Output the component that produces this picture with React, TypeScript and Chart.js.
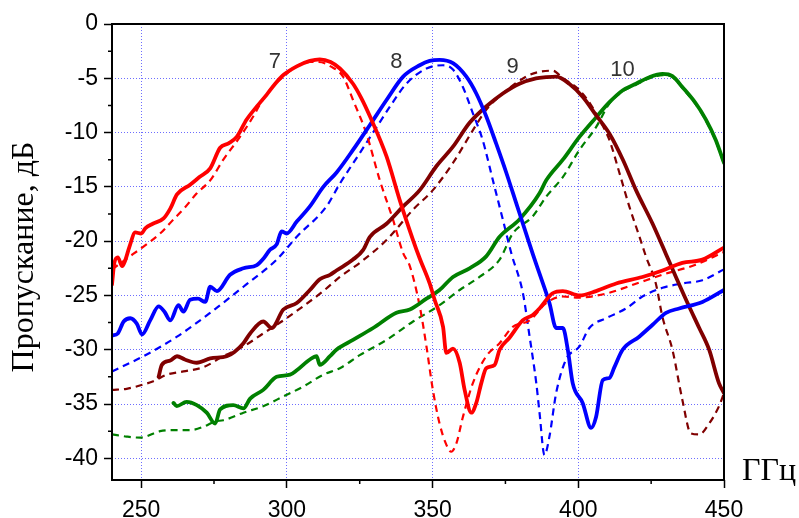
import React, { useEffect, useRef } from "react";
import { Chart, registerables } from "chart.js";

Chart.register(...registerables);

// ---------- data ----------
const red7X = [240, 240.8, 242, 243.5, 244.5, 246, 248, 250, 251.5, 254, 257.7, 260, 262.3, 266.8, 270, 273.7, 277.1, 280, 282.8, 286.2, 289.7, 293.1, 296, 298.8, 303.4, 307.9, 311.3, 315, 318.2, 322.7, 325.5, 328.5, 334.2, 338.7, 343.3, 345.6, 349, 350.7, 353.6, 354.7, 357, 359.3, 361, 363.3, 365, 366.7, 368.4, 371.3, 373, 376.4, 380.9, 384.4, 386.7, 391.2, 394.7, 400.4, 406.1, 413, 422, 428.9, 435.7, 442.6, 450];
const red7Y = [-24, -22, -21.5, -22.3, -21.8, -20.5, -19.2, -19.3, -18.8, -18.4, -17.9, -17, -15.7, -14.8, -14.1, -13.3, -11.4, -11, -10.4, -8.8, -7.6, -6.5, -5.5, -4.7, -3.9, -3.4, -3.25, -3.5, -4.1, -5.5, -6.8, -8.5, -12.2, -16.2, -19.9, -21.6, -23.9, -25.4, -27.9, -30.3, -29.9, -31.2, -33.7, -35.8, -34.9, -33.1, -31.7, -31.4, -30, -28.9, -27.3, -26.8, -26.2, -24.8, -24.6, -25, -24.6, -23.9, -23.3, -22.7, -22, -21.7, -20.6];

const red7dX = [240, 245.1, 250.8, 256.5, 261.1, 265, 269.1, 273.7, 278.2, 283.9, 288.5, 291, 295, 299, 303.4, 307.9, 311, 315, 319.3, 322.7, 327.3, 331.9, 336.4, 339.9, 342.2, 345.6, 347.9, 350.1, 352.4, 354.5, 356.4, 358.2, 360.4, 363.8, 368.4, 373, 377.5, 383.3, 389, 394.7, 400, 410, 420, 430, 440, 450];
const red7dY = [-22.6, -21.6, -20.5, -19.3, -18, -16.9, -15.6, -14.4, -12.5, -10.4, -8.5, -7.3, -5.8, -4.8, -3.9, -3.5, -3.5, -3.9, -4.85, -7, -10.1, -14.4, -18, -21.1, -22.3, -26, -29.7, -33.7, -36.8, -38.6, -39.4, -38.6, -36.2, -33.1, -30.6, -29.4, -27.9, -27.3, -25.7, -25.1, -25.2, -24.8, -23.9, -23.0, -22.2, -21.0];

const blue8X = [240, 242, 244, 246.3, 248.5, 250.3, 253.1, 256, 258, 260, 262.8, 264.5, 266.8, 269.5, 272, 273.7, 276, 280.5, 285.1, 289.7, 292, 294.2, 296.5, 298.2, 299.9, 303.4, 307.9, 312.5, 317, 322.7, 328.5, 334.2, 339.9, 345.6, 349, 352.4, 357, 361.6, 365, 368.4, 371.8, 375.3, 378.7, 382.1, 384.4, 386.7, 390.1, 392.4, 394.7, 396.4, 398.1, 401.5, 404.4, 406.1, 408.4, 410.7, 412.4, 415.2, 420.9, 425.5, 430.1, 434.6, 442.6, 450];
const blue8Y = [-28.7, -28.5, -27.4, -27.1, -27.6, -28.6, -27.3, -26, -26.5, -27.3, -25.9, -26.5, -25.4, -25.3, -25.6, -24.2, -24.6, -23.1, -22.5, -22.2, -21.6, -20.8, -20.3, -19.1, -19.3, -18.2, -16.8, -15, -13.7, -11.6, -9.3, -7, -4.85, -3.8, -3.4, -3.3, -3.6, -4.85, -6.4, -8.5, -11, -13.7, -16.5, -19.3, -21.2, -23, -25.7, -28, -28, -30, -33.1, -34.9, -37.2, -36.2, -32.8, -32.6, -31.6, -30, -28.8, -27.7, -26.6, -26.2, -25.6, -24.5];

const blue8dX = [240, 250.8, 262.3, 273.7, 285.1, 296.5, 303.4, 313.6, 318.2, 325, 330.8, 335.4, 341, 347.9, 353.6, 357, 360.4, 363.8, 367.2, 370.7, 374.1, 377, 381, 383.3, 385.6, 386.7, 388.4, 390.1, 392.4, 395.8, 400.4, 403.8, 409.5, 416.4, 422, 428.9, 435.7, 442.6, 450];
const blue8dY = [-32, -30.6, -28.8, -26.6, -24.2, -21.7, -19.6, -16.8, -14.7, -11.9, -9.5, -7.6, -5.5, -4.1, -3.8, -4.2, -5.8, -8.2, -10.7, -14.4, -18, -21.1, -24.8, -28.8, -33.1, -35.8, -39.7, -38, -34, -30.9, -29.7, -28, -27.1, -26.2, -25.1, -24.3, -23.9, -23.6, -22.6];

const brown9X = [256, 257.1, 260, 262.3, 265, 269.1, 273.7, 279.4, 282, 285.1, 287.4, 291.9, 294.8, 298.8, 303.4, 307.9, 311.3, 314.8, 317, 322.7, 326.2, 328.5, 334.2, 339.9, 345.6, 351.3, 357, 362.7, 368.4, 374.1, 379.8, 385.5, 389, 392.4, 396.9, 401.5, 406.1, 410.7, 415.3, 419.8, 425.5, 430.1, 433.5, 438, 441.5, 444.9, 448.3, 450];
const brown9Y = [-32.5, -31.4, -31, -30.6, -30.9, -31.2, -30.8, -30.6, -30.2, -29.4, -28.5, -27.4, -28, -26.3, -25.7, -24.5, -23.5, -23.1, -22.7, -21.7, -20.8, -19.6, -18.4, -16.8, -15.3, -13.1, -11.3, -9.1, -7.6, -6.4, -5.5, -5, -4.9, -4.85, -5.5, -6.7, -8.4, -10.1, -12.5, -15.3, -18.4, -21.2, -23.3, -26, -28, -30, -33.1, -34];

const brown9dX = [240, 245, 250.8, 254.2, 258.8, 264.5, 271.4, 278.2, 285.1, 291.9, 298.8, 305.6, 312.5, 318.2, 325, 334.2, 343.3, 350.1, 357, 363.8, 368.4, 374.1, 382.1, 386.7, 391.2, 394.7, 400, 404, 407.2, 410.7, 414.1, 417.5, 421, 423.2, 426.6, 428.9, 432.3, 435.7, 438.6, 441.5, 444.9, 448.3, 450];
const brown9dY = [-33.7, -33.6, -33.2, -32.9, -32.3, -32, -31.6, -30.6, -29.7, -28.5, -27.3, -26, -24.6, -23.3, -22, -19.9, -17.1, -15.3, -12.8, -9.8, -7.9, -6.4, -4.85, -4.4, -4.3, -5, -6, -7.3, -8.8, -10.7, -13.7, -16.8, -19.6, -21.4, -23.9, -27, -30, -34.6, -37.7, -37.8, -36.8, -35.2, -34];

const green10X = [261.1, 262.2, 265.6, 269.1, 272.5, 275.4, 277.1, 281.6, 285.1, 287.4, 291.9, 296.5, 301.1, 303.4, 307.9, 310.2, 311.3, 314.8, 317, 322.7, 329.6, 337.6, 342.2, 347.9, 352.4, 357, 362.7, 368.4, 373, 379.8, 386.7, 389, 394.7, 400.4, 406.1, 410.7, 415.3, 419.8, 424.4, 428.9, 432.3, 435.7, 440.3, 443.8, 447.2, 450];
const green10Y = [-34.9, -35.2, -34.8, -35.1, -35.8, -36.8, -35.5, -35.1, -35.4, -34.5, -33.7, -32.5, -32.3, -31.9, -30.9, -30.6, -31.4, -30.6, -30, -29.1, -28, -26.6, -26.3, -25.3, -24.5, -23.3, -22.5, -21.4, -19.6, -18, -15.6, -14.4, -12.5, -10.4, -8.6, -7.2, -6.1, -5.5, -4.9, -4.6, -4.8, -5.8, -7.3, -8.8, -10.7, -12.8];

const green10dX = [240, 245, 249.7, 256.5, 262, 266.8, 271.4, 275.4, 278.2, 285.1, 291.9, 298.8, 305.6, 312.5, 318.2, 325, 334.2, 343.3, 352.4, 359.3, 366.1, 373, 377.5, 384.4, 389, 394.7, 400.4, 406.1, 410.7, 415.3, 419.8, 424.4, 428.9, 432.3, 435.7, 440.3, 443.8, 447.2, 450];
const green10dY = [-37.8, -38, -38.1, -37.5, -37.4, -37.4, -37.1, -36.6, -36.5, -35.8, -35.2, -34.3, -33.4, -32.3, -31.7, -30.5, -29.1, -27.4, -25.9, -24.5, -23.3, -21.7, -19.3, -17.7, -15.9, -14.1, -11.6, -9.5, -7.3, -6.2, -5.6, -5.0, -4.7, -4.9, -5.9, -7.4, -8.9, -10.8, -12.9];

const curveNames = ["7", "8", "9", "10"];
const curveLabelX = [295.9, 337.6, 377.5, 415.2];
const curveLabelY = [-3.5, -3.5, -4.0, -4.2];

const minorX = [275, 325, 375, 425];
const minorY = [-2.5, -7.5, -12.5, -17.5, -22.5, -27.5, -32.5, -37.5];

const xTitle = "ГГц";
const yTitle = "Пропускание, дБ";

// ---------- helpers ----------
const zip = (xs: number[], ys: number[]) => xs.map((x, i) => ({ x, y: ys[i] }));

const solid = (xs: number[], ys: number[], color: string) => ({
  data: zip(xs, ys),
  borderColor: color,
  borderWidth: 3.8,
  pointRadius: 0,
  fill: false,
  cubicInterpolationMode: "monotone" as const,
  borderCapStyle: "round" as const,
  borderJoinStyle: "round" as const,
});

const dashed = (xs: number[], ys: number[], color: string) => ({
  data: zip(xs, ys),
  borderColor: color,
  borderWidth: 2.2,
  borderDash: [7, 5],
  pointRadius: 0,
  fill: false,
  cubicInterpolationMode: "monotone" as const,
});

const decorPlugin = {
  id: "decor",
  afterDraw(chart: any) {
    const { ctx, chartArea: a, scales } = chart;
    const xs = scales.x;
    const ys = scales.y;
    ctx.save();
    ctx.strokeStyle = "#000";
    ctx.lineWidth = 2;
    ctx.strokeRect(a.left, a.top, a.right - a.left, a.bottom - a.top);

    ctx.lineWidth = 1.5;
    ctx.beginPath();
    minorX.forEach((v) => {
      const px = xs.getPixelForValue(v);
      ctx.moveTo(px, a.bottom);
      ctx.lineTo(px, a.bottom + 4);
    });
    minorY.forEach((v) => {
      const py = ys.getPixelForValue(v);
      ctx.moveTo(a.left, py);
      ctx.lineTo(a.left - 4, py);
    });
    ctx.stroke();

    ctx.fillStyle = "#333";
    ctx.font = '22px "Liberation Sans", Arial, sans-serif';
    ctx.textAlign = "center";
    ctx.textBaseline = "middle";
    curveNames.forEach((n, i) => {
      ctx.fillText(n, xs.getPixelForValue(curveLabelX[i]), ys.getPixelForValue(curveLabelY[i]));
    });

    ctx.fillStyle = "#000";
    ctx.font = '32px "Liberation Serif", "Times New Roman", serif';
    ctx.textAlign = "left";
    ctx.textBaseline = "alphabetic";
    ctx.fillText(xTitle, a.right + 18, a.bottom);

    ctx.translate(33, (a.top + a.bottom) / 2 + 5);
    ctx.rotate(-Math.PI / 2);
    ctx.textAlign = "center";
    ctx.fillText(yTitle, 0, 0);
    ctx.restore();
  },
};

export default function App() {
  const ref = useRef<HTMLCanvasElement | null>(null);

  useEffect(() => {
    document.body.style.margin = "0";
    const canvas = ref.current;
    if (!canvas) return;
    const tickFont = { family: '"Liberation Sans", Arial, sans-serif', size: 23 };
    const chart = new Chart(canvas, {
      type: "line",
      data: {
        datasets: [
          solid(red7X, red7Y, "#ff0000"),
          solid(blue8X, blue8Y, "#0000ff"),
          solid(brown9X, brown9Y, "#800000"),
          solid(green10X, green10Y, "#008000"),
          dashed(red7dX, red7dY, "#ff0000"),
          dashed(blue8dX, blue8dY, "#0000ff"),
          dashed(brown9dX, brown9dY, "#800000"),
          dashed(green10dX, green10dY, "#008000"),
        ] as any,
      },
      options: {
        animation: false,
        responsive: false,
        devicePixelRatio: 1,
        layout: { padding: { left: 0, top: 24, right: 75, bottom: 0 } },
        plugins: { legend: { display: false }, tooltip: { enabled: false } },
        scales: {
          x: {
            type: "linear",
            min: 240,
            max: 450,
            afterFit: (s: any) => {
              s.height = 38;
            },
            ticks: { stepSize: 50, includeBounds: false, color: "#000", font: tickFont, padding: 9, maxRotation: 0 },
            grid: {
              color: "rgba(60,60,255,0.75)",
              lineWidth: 1,
              tickColor: "#000",
              tickLength: 8,
              tickWidth: 1.5,
            },
            border: { display: false, dash: [1, 2] },
          },
          y: {
            type: "linear",
            min: -42,
            max: 0,
            afterFit: (s: any) => {
              s.width = 112;
            },
            ticks: { stepSize: 5, includeBounds: false, color: "#000", font: tickFont, padding: 6 },
            grid: {
              color: "rgba(60,60,255,0.75)",
              lineWidth: 1,
              tickColor: "#000",
              tickLength: 8,
              tickWidth: 1.5,
            },
            border: { display: false, dash: [1, 2] },
          },
        },
      },
      plugins: [decorPlugin],
    });
    return () => chart.destroy();
  }, []);

  return <canvas ref={ref} width={799} height={518} style={{ display: "block", width: 799, height: 518 }} />;
}
